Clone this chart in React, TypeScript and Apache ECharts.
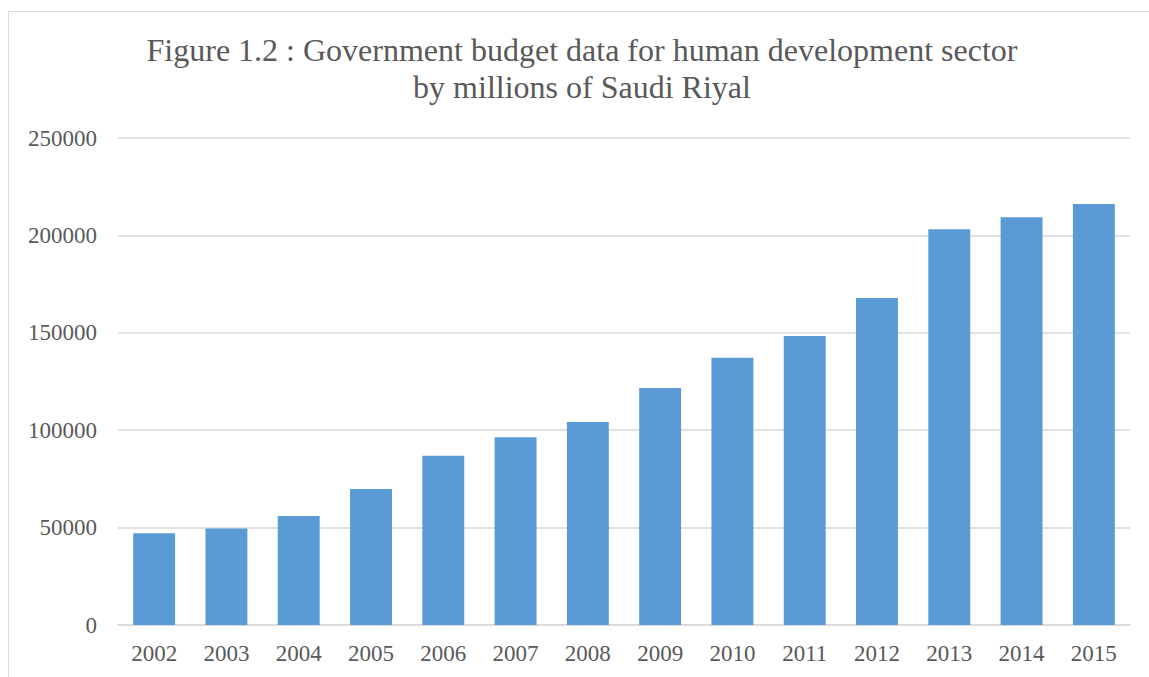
import React, { useEffect, useRef } from "react";
import * as echarts from "echarts";

const years = ["2002", "2003", "2004", "2005", "2006", "2007", "2008", "2009", "2010", "2011", "2012", "2013", "2014", "2015"];
const budget = [47100, 49600, 55900, 69800, 86900, 96400, 104200, 121700, 137200, 148300, 167900, 203100, 209300, 216100];
const titleLines = ["Figure 1.2 : Government budget data for human development sector", "by millions of Saudi Riyal"];

export default function App() {
  const ref = useRef<HTMLDivElement>(null);
  useEffect(() => {
    if (!ref.current) return;
    const chart = echarts.init(ref.current, null, { renderer: "svg" });
    const font = "'Liberation Serif', 'Times New Roman', serif";
    const titleStyle = (text: string) => ({
      text,
      fontFamily: font,
      fontSize: 32,
      fontWeight: "normal",
      fill: "#595959",
      textAlign: "center",
      textVerticalAlign: "middle",
    });
    chart.setOption({
      animation: false,
      backgroundColor: "#ffffff",
      graphic: [
        { type: "text", x: 573, y: 38, style: titleStyle(titleLines[0]) },
        { type: "text", x: 573, y: 75, style: titleStyle(titleLines[1]) },
      ],
      grid: { left: 109, top: 126, right: 19, bottom: 52, containLabel: false },
      xAxis: {
        type: "category",
        data: years,
        axisLine: { show: true, lineStyle: { color: "#d9d9d9", width: 1.5 } },
        axisTick: { show: false },
        axisLabel: { fontFamily: font, fontSize: 23, color: "#595959", margin: 17 },
      },
      yAxis: {
        type: "value",
        min: 0,
        max: 250000,
        interval: 50000,
        axisLine: { show: false },
        axisTick: { show: false },
        splitLine: { lineStyle: { color: "#d9d9d9", width: 1.5 } },
        axisLabel: {
          fontFamily: font,
          fontSize: 23,
          color: "#595959",
          margin: 21,
          formatter: (v: number) => String(v),
        },
      },
      series: [
        {
          type: "bar",
          data: budget,
          barCategoryGap: "42%",
          itemStyle: { color: "#5B9BD5" },
        },
      ],
    });
    return () => chart.dispose();
  }, []);
  return (
    <div
      ref={ref}
      style={{
        position: "absolute",
        left: 8,
        top: 11,
        width: 1141,
        height: 666,
        boxSizing: "border-box",
        borderLeft: "1px solid #d9d9d9",
        borderTop: "1px solid #d9d9d9",
        background: "#fff",
      }}
    />
  );
}
